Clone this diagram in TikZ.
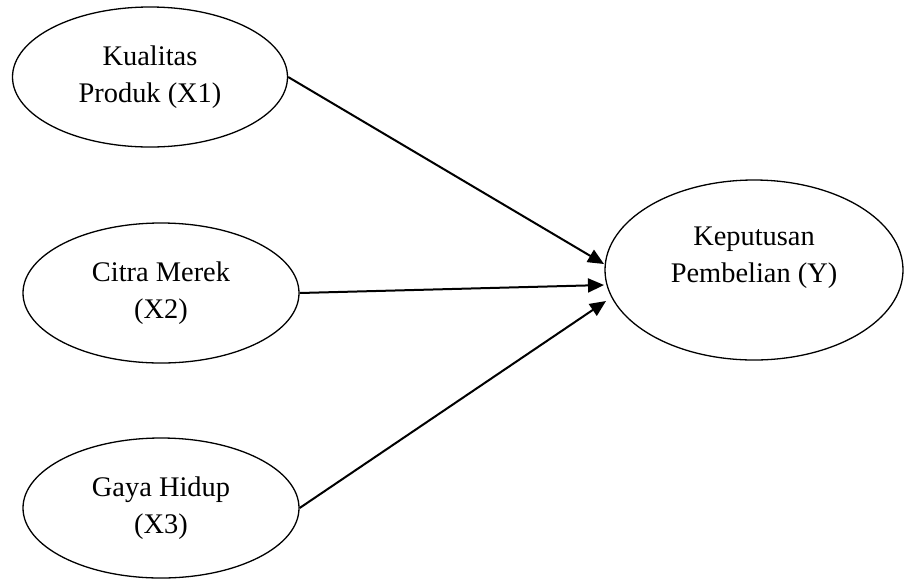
\documentclass[tikz,border=0pt]{standalone}
\usepackage{fontspec}
\setmainfont{Liberation Serif}
\usetikzlibrary{shapes.geometric,arrows.meta}

\begin{document}
\begin{tikzpicture}[x=0.5pt,y=-0.5pt,
    every node/.style={align=center,font=\fontsize{14.2}{18.5}\selectfont},
    varnode/.style={draw,ellipse,line width=0.65pt,inner sep=0pt,minimum width=138pt,minimum height=70pt},
    link/.style={-{Triangle[length=8pt,width=7pt]},line width=1pt}
    ]
    \useasboundingbox (0,0) rectangle (904,579);

    \node (x1) [varnode,minimum width=137.5pt] at (150,77) {Kualitas\\Produk (X1)};
    \node (x2) [varnode] at (161,293) {Citra Merek\\(X2)};
    \node (x3) [varnode] at (161,508) {Gaya Hidup\\(X3)};
    \node (y) [varnode,minimum width=149pt,minimum height=90pt] at (754,270) {};
    \node (ytext) at (754,258) {Keputusan\\Pembelian (Y)};

    % arrow ends
    \coordinate (e1) at (604,264);
    \coordinate (e2) at (604,285);
    \coordinate (e3) at (606,301);

    % the edges
    \draw[link] (x1.east) -- (e1);
    \draw[link] (x2.east) -- (e2);
    \draw[link] (x3.east) -- (e3);
\end{tikzpicture}
\end{document}
